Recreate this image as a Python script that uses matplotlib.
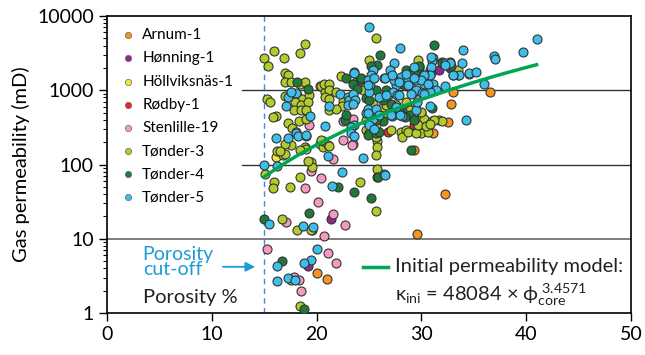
import numpy as np
import matplotlib.pyplot as plt
from matplotlib.ticker import FixedLocator, FuncFormatter, LogLocator, NullFormatter

plt.rcParams['font.family'] = ['Lato', 'DejaVu Sans']
plt.rcParams['mathtext.fontset'] = 'custom'
plt.rcParams['mathtext.rm'] = 'Lato'
plt.rcParams['mathtext.it'] = 'Lato:italic'

# porosity (%) and gas permeability (mD) per well
arnum_phi = [33.0, 36.6, 32.8, 32.5, 31.1, 29.3, 32.3, 29.6, 20.0, 21.0]
arnum_k = [960, 950, 650, 370, 265, 156, 40, 11.5, 3.5, 2.9]

honning_phi = [31.7, 32.7, 21.4, 19.6, 19.2]
honning_k = [1860, 1970, 18.5, 13, 4.3]

hollviks_phi = [16.1]
hollviks_k = [127]

rodby_phi = [26.8, 29.5, 29.3]
rodby_k = [270, 320, 345]

stenlille_phi = [20.3, 19.3, 23.5, 22.5, 22.5, 23.5, 21.6, 19.5, 20.4, 23.4, 18.9, 20.1,
                 21.6, 17.1, 22.7, 20.7, 15.3, 21.1, 21.9, 17.8, 18.3, 18.5]
stenlille_k = [1140, 340, 415, 380, 213, 190, 117, 82, 66, 182, 48.5, 31.5,
               21.5, 17, 15.3, 10.8, 7.4, 6.5, 4.8, 3.1, 2.8, 2.0]

tonder3_phi = [15.0, 15.4, 15.9, 16.9, 18.4, 18.9, 17.0, 17.3, 17.0, 17.6, 18.4, 18.9,
               15.3, 15.6, 17.0, 17.5, 18.1, 18.6, 19.3, 17.9, 18.5, 19.2, 17.8, 18.5,
               19.0, 16.1, 15.8, 17.3, 17.7, 18.3, 19.0, 17.6, 17.0, 18.0, 18.9, 19.5,
               19.6, 16.2, 16.8, 20.3, 20.6, 21.1, 20.4, 20.8, 21.1, 20.7, 21.2, 21.2,
               20.8, 21.2, 21.9, 22.5, 22.4, 21.2, 21.9,
               15.1, 15.9, 15.8, 17.5, 18.4, 19.2, 24.1, 25.8, 16.7, 18.1, 19.5, 17.6,
               18.4, 25.7,
               29.4, 30.0, 26.2, 26.6, 27.3, 27.9, 29.3, 30.0, 30.3, 31.0, 31.7, 27.1,
               28.1, 28.5, 28.2, 28.7, 29.7, 30.3, 30.0, 29.5, 30.6, 29.7, 25.8, 25.8,
               25.7, 25.7, 28.5, 28.9, 30.0, 30.4, 32.0, 31.2, 30.8,
               29.8, 32.0, 33.5, 34.6, 25.0, 25.7, 29.7, 33.5, 22.3, 23.8, 24.1, 24.7,
               24.4, 25.4, 25.7, 26.3, 27.0, 26.6, 27.6, 24.7, 25.7, 24.7, 25.0, 20.6,
               21.2, 20.4, 19.0, 18.4, 17.0, 16.5]
tonder3_k = [2740, 2100, 3400, 2700, 3200, 4200, 1700, 1600, 1290, 1290, 1230, 1290,
             760, 700, 830, 870, 870, 760, 860, 700, 630, 700, 540, 540,
             540, 450, 440, 360, 310, 380, 415, 182, 190, 270, 172, 107,
             93, 150, 134, 190, 172, 182, 1130, 960, 1170, 1230, 1230, 1000,
             810, 770, 960, 710, 610, 540, 560,
             74, 58, 48, 50, 68, 110, 58, 87, 18.6, 13, 13, 2.8,
             1.25, 24,
             600, 500, 470, 500, 460, 490, 395, 395, 410, 390, 395, 290,
             270, 290, 235, 270, 300, 300, 265, 265, 275, 340, 205, 172,
             134, 235, 700, 540, 510, 330, 390, 400, 355,
             2100, 2400, 1600, 1650, 2540, 5050, 2540, 1900, 1560, 1290, 1370, 1230,
             1000, 660, 540, 600, 540, 630, 630, 396, 340, 290, 265, 205,
             178, 213, 164, 156, 140, 150]

tonder4_phi = [31.2, 26.1, 25.8, 25.2, 28.5, 29.0, 29.8, 29.7, 30.8, 30.9, 32.0, 32.7,
               18.1, 19.2, 24.2, 28.2, 28.7, 26.6, 25.7, 24.7, 25.0, 31.0, 28.2, 28.9,
               28.4, 26.3, 25.7, 22.7, 22.8, 24.9, 25.7, 29.0, 25.8, 15.0, 19.3, 25.2,
               16.7, 18.8, 22.0, 23.6, 25.9, 29.8, 32.8, 27.1, 26.3, 28.5, 29.3, 27.9,
               29.3, 26.0, 22.8, 23.5, 23.9, 24.2]
tonder4_k = [4050, 3000, 2200, 2100, 1860, 1700, 1970, 1700, 1860, 1700, 2300, 2400,
             1290, 1050, 1400, 1230, 1130, 1000, 1000, 790, 740, 580, 520, 460,
             440, 380, 395, 400, 460, 250, 265, 156, 68, 18.7, 22.5, 36,
             5.0, 1.13, 50, 43, 67, 2150, 2150, 660, 740, 1130, 960, 520,
             400, 270, 1440, 1230, 1050, 1450]

tonder5_phi = [25.0, 28.0, 34.0, 36.9, 37.0, 39.7, 41.0, 33.9, 31.1, 31.0, 30.9, 32.3,
               32.7, 34.6, 35.2, 33.6, 33.0, 36.0, 32.3, 34.3, 27.4, 27.0, 26.4, 25.4,
               25.2, 24.9, 25.1, 25.0, 23.6, 27.6, 27.6, 28.2, 28.9, 29.5, 30.2, 30.8,
               30.3, 29.5, 30.1, 31.1, 31.4, 30.8, 22.2, 23.0, 23.1, 23.5, 23.7, 23.0,
               23.5, 21.2, 20.8, 19.4, 17.3, 17.1, 18.0, 18.2, 19.0, 17.3, 16.1, 18.0,
               17.6, 15.0, 16.2, 21.1, 24.4, 22.4, 26.4, 25.6, 25.4, 24.7, 24.9, 25.7,
               25.0, 25.5, 28.2, 27.2, 30.8, 29.5, 29.6, 23.6, 23.3, 23.3, 23.6,
               15.5, 18.7, 19.7, 20.0, 19.5, 18.8, 16.2, 16.2, 17.3, 17.9, 21.5, 26.5,
               32.3, 33.0, 30.9, 30.3, 30.0, 30.6, 28.1, 27.4, 27.9, 28.7, 29.3, 28.7,
               26.5, 26.2, 26.8, 27.3, 27.7, 29.0, 30.3, 26.0, 26.6, 27.9, 24.9, 26.0,
               27.1, 27.6, 28.0, 19.0, 23.6, 25.5, 24.9, 27.2, 28.5, 29.3]
tonder5_k = [7200, 3650, 3460, 2900, 2600, 3250, 4900, 2300, 2750, 2450, 2050, 2300,
             2300, 1700, 1750, 1600, 1600, 1230, 1130, 400, 2300, 1860, 1440, 1860,
             1600, 1370, 1170, 960, 1780, 1390, 1170, 1510, 1170, 1370, 1600, 1600,
             1230, 1000, 920, 1230, 1000, 960, 880, 810, 740, 900, 750, 630,
             660, 610, 330, 450, 810, 610, 265, 240, 240, 230, 230, 920,
             960, 98, 96, 130, 123, 80, 74, 470, 415, 500, 560, 560,
             340, 300, 450, 450, 610, 540, 700, 340, 320, 265, 240,
             16, 14.8, 14.5, 7.4, 5.2, 4.7, 4.3, 2.7, 3.0, 2.8, 51, 73,
             2200, 1620, 2800, 1600, 1370, 1230, 1510, 1370, 1290, 1370, 1440, 1170,
             1470, 810, 860, 960, 860, 900, 900, 810, 860, 860, 490, 460,
             460, 600, 460, 250, 1700, 1440, 1170, 1600, 1650, 2050]

wells = ['Arnum-1', 'Hønning-1', 'Höllviksnäs-1', 'Rødby-1', 'Stenlille-19',
         'Tønder-3', 'Tønder-4', 'Tønder-5']
colors = ['#F7941D', '#92278F', '#EEE83A', '#E8262A', '#F49AC1',
          '#B2CC2C', '#1F7A3A', '#3DBFEC']
phis = [arnum_phi, honning_phi, hollviks_phi, rodby_phi, stenlille_phi,
        tonder3_phi, tonder4_phi, tonder5_phi]
perms = [arnum_k, honning_k, hollviks_k, rodby_k, stenlille_k,
         tonder3_k, tonder4_k, tonder5_k]

# initial permeability model k = a * phi^b (phi as a fraction)
model_a = 48084
model_b = 3.4571
model_phi = np.linspace(15, 41, 60)
model_k = model_a * (model_phi / 100) ** model_b

cutoff = 15

fig, ax = plt.subplots(figsize=(6.45, 3.55), dpi=100)
fig.subplots_adjust(left=0.166, right=0.978, top=0.955, bottom=0.118)

# horizontal reference lines
ax.axhline(1000, xmin=0.257, color='#333333', lw=1, zorder=1)
ax.axhline(100, xmin=0.257, color='#333333', lw=1, zorder=1)
ax.axhline(10, color='#666666', lw=1.2, zorder=1)

ax.axvline(cutoff, color='#4A86D8', lw=1, ls=(0, (4, 3)), zorder=1)

for name, col, x, y in zip(wells, colors, phis, perms):
    ax.scatter(x, y, s=42, color=col, edgecolor='#333333', linewidth=0.8,
               label=name, zorder=3)

ax.plot(model_phi, model_k, color='#00A651', lw=2.5, zorder=4)

ax.set_yscale('log')
ax.set_xlim(0, 50)
ax.set_ylim(1, 10000)
ax.xaxis.set_major_locator(FixedLocator([0, 10, 20, 30, 40, 50]))
ax.yaxis.set_major_locator(FixedLocator([1, 10, 100, 1000, 10000]))
ax.yaxis.set_major_formatter(FuncFormatter(lambda v, p: '%d' % v))
ax.yaxis.set_minor_locator(LogLocator(base=10, subs=np.arange(2, 10)))
ax.yaxis.set_minor_formatter(NullFormatter())
ax.tick_params(axis='both', which='major', labelsize=14, length=6, width=1, direction='out')
ax.tick_params(axis='y', which='minor', length=3, width=0.8, direction='out')
for sp in ax.spines.values():
    sp.set_linewidth(1.2)

ax.set_ylabel('Gas permeability (mD)', fontsize=14.5, labelpad=5)

leg = ax.legend(loc='upper left', bbox_to_anchor=(0.0, 1.0), frameon=False, fontsize=11,
                markerscale=0.7, handletextpad=0.3, labelspacing=0.6, borderaxespad=0.4,
                handlelength=1.2)
for h in leg.legend_handles:
    h.set_edgecolor('#666666')
    h.set_linewidth(0.5)

# axis title inside the plot
ax.text(3.4, 1.35, 'Porosity %', fontsize=14.5, color='#222222', zorder=5)

# porosity cut-off label and arrow
ax.text(3.4, 4.9, 'Porosity\ncut-off', fontsize=14, color='#1B9BD7', va='center',
        linespacing=0.85, zorder=5)
ax.annotate('', xy=(14.4, 4.2), xytext=(10.8, 4.2),
            arrowprops=dict(arrowstyle='-|>', color='#1B9BD7', lw=1.3, mutation_scale=14))

# model legend entry
ax.plot([24.4, 26.8], [4.2, 4.2], color='#00A651', lw=2.5, zorder=5)
ax.text(27.5, 4.2, 'Initial permeability model:', fontsize=14.5, va='center', color='#222222')
ax.text(27.5, 1.75, r'$\mathrm{\kappa_{ini}}$ = 48084 × $\mathrm{\phi_{core}^{\ 3.4571}}$',
        fontsize=14.5, va='center', color='#222222')

plt.savefig('out.png', dpi=100)
